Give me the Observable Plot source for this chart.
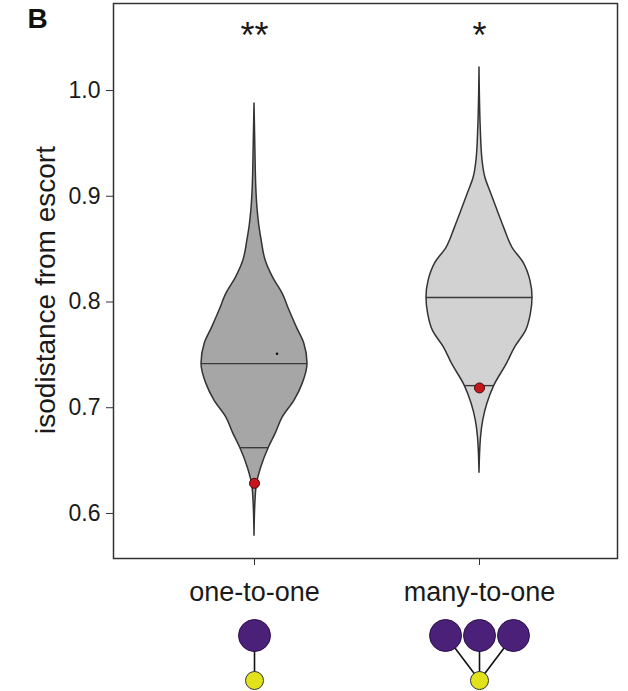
<!DOCTYPE html>
<html><head><meta charset="utf-8">
<script src="https://cdn.jsdelivr.net/npm/d3@7"></script>
<script src="https://cdn.jsdelivr.net/npm/@observablehq/plot@0.6"></script>
<style>
body{margin:0;background:#fff;}
#chart svg{display:block;}
</style></head><body><div id="chart"></div>
<script>
// ---- data ----
const categories = ["one-to-one", "many-to-one"];
const yLabel = "isodistance from escort";
const sigLabels = ["**", "*"];
const yTicks = [0.6, 0.7, 0.8, 0.9, 1.0];

// violin profiles: value levels and relative density (max = 1)
const oneToOneValue   = [0.5790, 0.6121, 0.6282, 0.6433, 0.6622, 0.6755, 0.6906, 0.7067, 0.7228, 0.7417, 0.7606, 0.7758, 0.7919, 0.8079, 0.8231, 0.8392, 0.8581, 0.8723, 0.8893, 0.9054, 0.9432, 0.9877];
const oneToOneDensity = [0,      0.019,  0.047,  0.126,  0.27,   0.40,   0.53,   0.755,  0.91,   1.0,    0.94,   0.80,   0.66,   0.53,   0.35,   0.21,   0.135,  0.09,   0.055,  0.036,  0.017,  0];
const manyToOneValue   = [0.6386, 0.6717, 0.6878, 0.7039, 0.7209, 0.7417, 0.7569, 0.7729, 0.7890, 0.8042, 0.8202, 0.8363, 0.8515, 0.8694, 0.8865, 0.9026, 0.9177, 0.9338, 0.9650, 1.0218];
const manyToOneDensity = [0,      0.028,  0.07,   0.15,   0.28,   0.52,   0.67,   0.88,   0.97,   1.0,    0.96,   0.84,   0.62,   0.47,   0.34,   0.22,   0.11,   0.057,  0.023,  0];

const medians = [0.7417, 0.8042];
const lowerLines = [0.6622, 0.7209];
const escortValues = [0.6285, 0.7187];   // red points
const extraPointValue = [0.751];          // small dot in one-to-one
const sourceCounts = [1, 3];              // schematic: sources per target

// ---- layout constants ----
const FONT = '"Liberation Sans", Arial, Helvetica, sans-serif';
const xDomain = [0.3733, 2.6133];
const halfMax = 0.2356;
const starY = 1.051;
const extraOffset = 0.1;
const sourceSpacing = 0.151;

function profile(values, dens, pos) {
  return values.map((v, i) => ({pos, v, w: dens[i] * halfMax}));
}
function widthAt(values, dens, y) {
  for (let i = 0; i < values.length - 1; i++) {
    if (y >= values[i] && y <= values[i + 1]) {
      const t = (y - values[i]) / (values[i + 1] - values[i]);
      return (dens[i] + t * (dens[i + 1] - dens[i])) * halfMax;
    }
  }
  return 0;
}
const v1 = profile(oneToOneValue, oneToOneDensity, 1);
const v2 = profile(manyToOneValue, manyToOneDensity, 2);
const profiles = [[oneToOneValue, oneToOneDensity], [manyToOneValue, manyToOneDensity]];
const lines = [];
[medians, lowerLines].forEach(arr => arr.forEach((y, i) => {
  lines.push({pos: i + 1, v: y, w: widthAt(profiles[i][0], profiles[i][1], y)});
}));

const main = Plot.plot({
  width: 628, height: 615,
  marginTop: 3, marginLeft: 113, marginRight: 11, marginBottom: 57,
  style: {fontFamily: FONT, color: "#1a1a1a", background: "white"},
  x: {domain: xDomain, axis: null},
  y: {domain: [0.5574, 1.0823], axis: null},
  marks: [
    Plot.areaX(v1, {y: "v", x1: d => d.pos - d.w, x2: d => d.pos + d.w, curve: "monotone-y", fill: "#a6a6a6", stroke: "#333", strokeWidth: 1.5}),
    Plot.areaX(v2, {y: "v", x1: d => d.pos - d.w, x2: d => d.pos + d.w, curve: "monotone-y", fill: "#d2d2d2", stroke: "#333", strokeWidth: 1.5}),
    Plot.ruleY(lines, {y: "v", x1: d => d.pos - d.w, x2: d => d.pos + d.w, stroke: "#3a3a3a", strokeWidth: 1.4}),
    Plot.dot(extraPointValue, {x: () => 1 + extraOffset, y: d => d, r: 1.3, fill: "#111", stroke: null}),
    Plot.dot(escortValues, {x: (d, i) => i + 1, y: d => d, r: 5, fill: "#c8161d", stroke: "#4a0808", strokeWidth: 1}),
    Plot.frame({stroke: "#333", strokeWidth: 1.5}),
    Plot.axisY({ticks: yTicks, tickFormat: d3.format(".1f"), tickSize: 7, tickPadding: 6, fontSize: 23, label: null, stroke: "#333"}),
    Plot.axisX({ticks: [1, 2], tickFormat: d => categories[d - 1], tickSize: 7, tickPadding: 16, fontSize: 27, label: null, stroke: "#333"}),
    Plot.text([yLabel], {frameAnchor: "left", textAnchor: "middle", lineAnchor: "middle", rotate: -90, dx: -67, dy: 9, fontSize: 28, fill: "#1a1a1a"}),
    Plot.text(sigLabels, {x: (d, i) => i + 1, y: () => starY, fontSize: 36, fill: "#1a1a1a"}),
    Plot.text(["B"], {frameAnchor: "top-left", dx: -86, dy: 5, textAnchor: "start", lineAnchor: "top", fontSize: 28, fontWeight: "bold", fill: "#111"})
  ]
});

// schematic icons
const sources = [], targets = [], links = [];
sourceCounts.forEach((n, gi) => {
  const cx = gi + 1;
  for (let k = 0; k < n; k++) {
    const sx = cx + (k - (n - 1) / 2) * sourceSpacing;
    sources.push({x: sx});
    links.push({x1: sx, x2: cx});
  }
  targets.push({x: cx});
});
const icons = Plot.plot({
  width: 628, height: 76,
  marginTop: 0, marginBottom: 0, marginLeft: 113, marginRight: 11,
  style: {background: "white"},
  x: {domain: xDomain, axis: null},
  y: {type: "point", domain: ["source", "target"], range: [20, 65], padding: 0, axis: null},
  marks: [
    Plot.link(links, {x1: "x1", x2: "x2", y1: () => "source", y2: () => "target", stroke: "#111", strokeWidth: 1.6}),
    Plot.dot(sources, {x: "x", y: () => "source", r: 16, fill: "#4b2079", stroke: "#2a0f47", strokeWidth: 1}),
    Plot.dot(targets, {x: "x", y: () => "target", r: 9, fill: "#e2e21c", stroke: "#333", strokeWidth: 1})
  ]
});

const el = document.getElementById("chart");
el.append(main, icons);
</script>
</body></html>
